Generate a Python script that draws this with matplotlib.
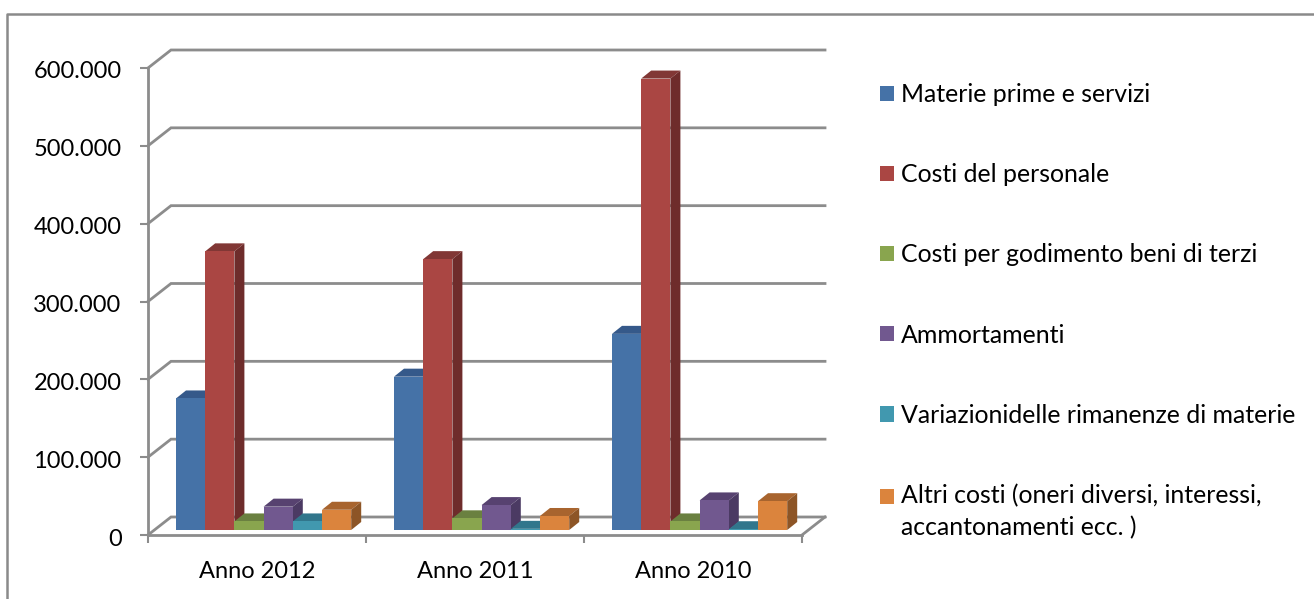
"""Costi per anno: 3D-look clustered columns drawn on a flat axes."""
import numpy as np
import matplotlib
matplotlib.use("Agg")
import matplotlib.pyplot as plt
from matplotlib.lines import Line2D
from matplotlib.patches import Patch
from matplotlib.transforms import ScaledTranslation

plt.rcParams["font.family"] = ["Lato", "DejaVu Sans"]

years = ["Anno 2012", "Anno 2011", "Anno 2010"]
materie = [169000, 197000, 252000]
personale = [358000, 348000, 580000]
godimento = [11000, 15000, 11000]
ammortamenti = [30000, 32000, 38000]
variazioni = [11000, 1500, 1000]
altri = [26000, 18000, 37000]

series = [materie, personale, godimento, ammortamenti, variazioni, altri]
labels = [
    "Materie prime e servizi",
    "Costi del personale",
    "Costi per godimento beni di terzi",
    "Ammortamenti",
    "Variazionidelle rimanenze di materie",
    "Altri costi (oneri diversi, interessi,\naccantonamenti ecc. )",
]
front = ["#4572A7", "#AA4643", "#89A54E", "#71588F", "#4198AF", "#DB843D"]
top = ["#35598A", "#813735", "#6A8040", "#574270", "#31768C", "#A8642E"]
side = ["#2E4F7A", "#6E2C2B", "#5E7A35", "#4B3A63", "#2D6F82", "#8D5526"]

GRID = "#8C8C8C"
W, H = 1314, 599
PX_Y = 600000 / 467

# depth of the chart box and of a single bar, in data units
WALL_DX, WALL_DY = 23 / 218, 18 * PX_Y
BAR_DX, BAR_DY = 10 / 218, 8 * PX_Y
BAR_W = 29.2 / 218
GROUP_START = 28 / 218
BASE = 5 * PX_Y

fig = plt.figure(figsize=(W / 100, H / 100), dpi=100)
ax = fig.add_axes([148 / W, (H - 535) / H, 654 / W, 467 / H])
ax.set_xlim(0, 3)
ax.set_ylim(0, 600000)

# outer frame of the chart
fig.add_artist(Line2D([7 / W, 7 / W, 1], [0, 1 - 14 / H, 1 - 14 / H], color="#8A8A8A", lw=1.8))

# walls: one receding line and one back line per gridline
yticks = np.arange(0, 600001, 100000)
for y in yticks:
    ax.plot([0, WALL_DX, 3 + WALL_DX], [y, y + WALL_DY, y + WALL_DY],
            color=GRID, lw=2, clip_on=False, zorder=1, solid_joinstyle="miter")
ax.plot([3, 3 + WALL_DX], [0, WALL_DY], color=GRID, lw=2, clip_on=False, zorder=1)

for g in range(len(years)):
    for s, vals in enumerate(series):
        x0 = g + GROUP_START + s * BAR_W
        x1 = x0 + BAR_W
        y1 = BASE + vals[g]
        z = 3 + s * 0.1 + g
        ax.fill([x0, x0 + BAR_DX, x1 + BAR_DX, x1], [y1, y1 + BAR_DY, y1 + BAR_DY, y1],
                color=top[s], lw=0, clip_on=False, zorder=z)
        ax.fill([x1, x1 + BAR_DX, x1 + BAR_DX, x1], [BASE, BASE + BAR_DY, y1 + BAR_DY, y1],
                color=side[s], lw=0, clip_on=False, zorder=z)
        ax.bar(x0, vals[g], width=BAR_W, bottom=BASE, align="edge",
               color=front[s], lw=0, clip_on=False, zorder=z + 0.01)

for name in ["top", "right"]:
    ax.spines[name].set_visible(False)
for name in ["left", "bottom"]:
    ax.spines[name].set_color(GRID)
    ax.spines[name].set_linewidth(2)

ax.set_yticks(yticks)
ax.set_yticklabels([f"{y:,}".replace(",", ".") for y in yticks], fontsize=17, va="center_baseline")
ax.tick_params(axis="y", length=6, width=1.5, color=GRID, pad=13)
# labels sit a touch high in Lato
nudge = ScaledTranslation(0, -2 / 100, fig.dpi_scale_trans)
for lab in ax.get_yticklabels():
    lab.set_transform(lab.get_transform() + nudge)

ax.set_xticks([0, 1, 2, 3])
ax.set_xticklabels([])
ax.tick_params(axis="x", which="major", length=6, width=1.5, color=GRID)
ax.set_xticks([0.5, 1.5, 2.5], minor=True)
ax.set_xticklabels(years, minor=True, fontsize=17)
ax.tick_params(axis="x", which="minor", length=0, pad=19)

handles = [Patch(facecolor=c, edgecolor="none") for c in front]
leg = ax.legend(handles, labels, loc="upper left", bbox_to_anchor=(880 / W, 1 - 83 / H),
                bbox_transform=fig.transFigure, frameon=False, fontsize=17.9, labelspacing=2.3,
                handlelength=0.57, handleheight=0.57, handletextpad=0.27, borderpad=0, borderaxespad=0)
for t in leg.get_texts():
    t.set_linespacing(1.45)
# two-line entry: square sits next to the first line
leg.legend_handles[5].set_y(12)

fig.savefig("out.png", dpi=100)
